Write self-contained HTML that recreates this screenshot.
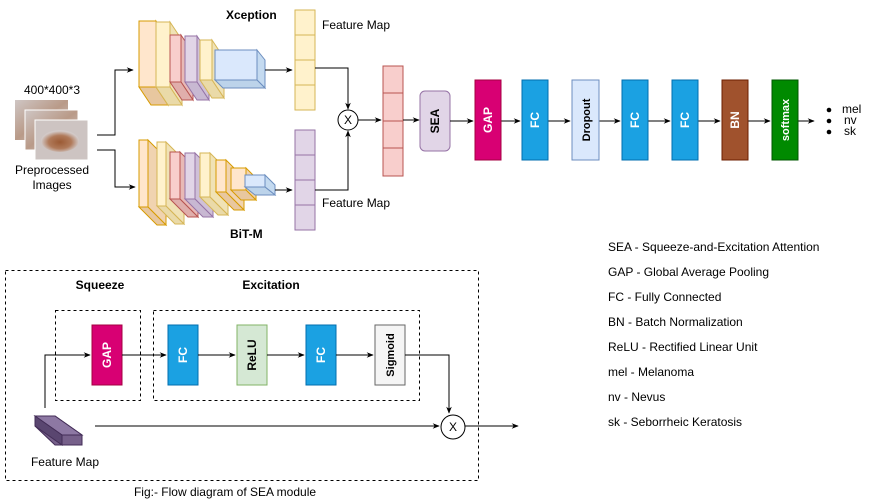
<!DOCTYPE html>
<html><head><meta charset="utf-8"><style>
body{margin:0;background:#fff}
svg{display:block;font-family:"Liberation Sans",Arial,sans-serif}
</style></head><body>
<svg width="871" height="500" viewBox="0 0 871 500" xmlns="http://www.w3.org/2000/svg">
<defs>
<marker id="a" viewBox="0 0 10 10" refX="9" refY="5" markerWidth="7" markerHeight="7" orient="auto"><path d="M0,1 L10,5 L0,9 L3,5z" fill="#000"/></marker>
<linearGradient id="sk" x1="0" y1="0" x2="1" y2="1"><stop offset="0" stop-color="#cfc6c4"/><stop offset="0.5" stop-color="#b99a88"/><stop offset="1" stop-color="#d4cdcc"/></linearGradient>
<radialGradient id="les" cx="0.5" cy="0.55" r="0.5"><stop offset="0" stop-color="#9b5a34"/><stop offset="0.6" stop-color="#b07a5a"/><stop offset="1" stop-color="#d2c9c7"/></radialGradient>
</defs>
<style>
.t{font-size:12px;fill:#000}
.b{font-size:12px;font-weight:bold}
</style>

<text x="52" y="94" class="t" text-anchor="middle">400*400*3</text>
<rect x="15" y="100" width="53" height="40" fill="url(#sk)"/>
<rect x="25" y="110" width="53" height="40" fill="url(#sk)" stroke="#fff"/>
<rect x="35" y="120" width="53" height="40" fill="#cdc4c2" stroke="#fff"/>
<ellipse cx="60" cy="141" rx="19" ry="11" fill="url(#les)"/>
<text x="52" y="174" class="t" text-anchor="middle">Preprocessed</text>
<text x="52" y="189" class="t" text-anchor="middle">Images</text>

<path d="M97,135 H115 V70 H133" fill="none" stroke="#000" marker-end="url(#a)"/>
<path d="M97,150 H115 V187 H135" fill="none" stroke="#000" marker-end="url(#a)"/>

<g>
<polygon points="156,21 168,39 168,105 156,87" fill="#f0d3b0" stroke="#d79b00"/><polygon points="139,87 156,87 168,105 151,105" fill="#e8c79f" stroke="#d79b00"/><rect x="139" y="21" width="17" height="66" fill="#ffe6cc" stroke="#d79b00"/>
<polygon points="170,22 182,40 182,105 170,87" fill="#f0e2b5" stroke="#d6b656"/><polygon points="156,87 170,87 182,105 168,105" fill="#eadaa8" stroke="#d6b656"/><rect x="156" y="22" width="14" height="65" fill="#fff2cc" stroke="#d6b656"/>
<polygon points="181,35 193,53 193,100 181,82" fill="#e8b9b6" stroke="#b85450"/><polygon points="170,82 181,82 193,100 182,100" fill="#e0aeab" stroke="#b85450"/><rect x="170" y="35" width="11" height="47" fill="#f8cecc" stroke="#b85450"/>
<polygon points="197,36 209,54 209,100 197,82" fill="#cfc0d8" stroke="#9673a6"/><polygon points="185,82 197,82 209,100 197,100" fill="#c8b8d2" stroke="#9673a6"/><rect x="185" y="36" width="12" height="46" fill="#e1d5e7" stroke="#9673a6"/>
<polygon points="212,40 224,58 224,98 212,80" fill="#f0e2b5" stroke="#d6b656"/><polygon points="200,80 212,80 224,98 212,98" fill="#eadaa8" stroke="#d6b656"/><rect x="200" y="40" width="12" height="40" fill="#fff2cc" stroke="#d6b656"/>
<polygon points="257,50 265,60 265,88 257,80" fill="#c4daf0" stroke="#6c8ebf"/><polygon points="215,80 257,80 265,88 223,88" fill="#bcd3ea" stroke="#6c8ebf"/><rect x="215" y="50" width="42" height="30" fill="#dae8fc" stroke="#6c8ebf"/>
</g>
<text x="226" y="19" class="b">Xception</text>
<path d="M265,70 H292" stroke="#000" marker-end="url(#a)"/>

<g>
<polygon points="148,140 166,158 166,225 148,207" fill="#f0d3b0" stroke="#d79b00"/><polygon points="139,207 148,207 166,225 157,225" fill="#e8c79f" stroke="#d79b00"/><rect x="139" y="140" width="9" height="67" fill="#ffe6cc" stroke="#d79b00"/>
<polygon points="166,142 184,160 184,224 166,206" fill="#f0e2b5" stroke="#d6b656"/><polygon points="157,206 166,206 184,224 175,224" fill="#eadaa8" stroke="#d6b656"/><rect x="157" y="142" width="9" height="64" fill="#fff2cc" stroke="#d6b656"/>
<polygon points="180,152 198,170 198,217 180,199" fill="#e8b9b6" stroke="#b85450"/><polygon points="170,199 180,199 198,217 188,217" fill="#e0aeab" stroke="#b85450"/><rect x="170" y="152" width="10" height="47" fill="#f8cecc" stroke="#b85450"/>
<polygon points="195,153 213,171 213,217 195,199" fill="#cfc0d8" stroke="#9673a6"/><polygon points="185,199 195,199 213,217 203,217" fill="#c8b8d2" stroke="#9673a6"/><rect x="185" y="153" width="10" height="46" fill="#e1d5e7" stroke="#9673a6"/>
<polygon points="210,153 228,171 228,215 210,197" fill="#f0e2b5" stroke="#d6b656"/><polygon points="200,197 210,197 228,215 218,215" fill="#eadaa8" stroke="#d6b656"/><rect x="200" y="153" width="10" height="44" fill="#fff2cc" stroke="#d6b656"/>
<polygon points="226,160 244,178 244,210 226,192" fill="#f0d3b0" stroke="#d79b00"/><polygon points="216,192 226,192 244,210 234,210" fill="#e8c79f" stroke="#d79b00"/><rect x="216" y="160" width="10" height="32" fill="#ffe6cc" stroke="#d79b00"/>
<polygon points="246,168 256,178 256,200 246,190" fill="#f0d3b0" stroke="#d79b00"/><polygon points="231,190 246,190 256,200 241,200" fill="#e8c79f" stroke="#d79b00"/><rect x="231" y="168" width="15" height="22" fill="#ffe6cc" stroke="#d79b00"/>
<polygon points="265,175 275,185 275,195 265,187" fill="#c4daf0" stroke="#6c8ebf"/><polygon points="245,187 265,187 275,195 255,195" fill="#bcd3ea" stroke="#6c8ebf"/><rect x="245" y="175" width="20" height="12" fill="#dae8fc" stroke="#6c8ebf"/>
</g>
<text x="230" y="238" class="b">BiT-M</text>
<path d="M275,190 H292" stroke="#000" marker-end="url(#a)"/>

<g stroke="#d6b656" fill="#fff2cc"><rect x="295" y="10" width="20" height="25"/><rect x="295" y="35" width="20" height="25"/><rect x="295" y="60" width="20" height="25"/><rect x="295" y="85" width="20" height="25"/></g>
<g stroke="#9673a6" fill="#e1d5e7"><rect x="295" y="130" width="20" height="25"/><rect x="295" y="155" width="20" height="25"/><rect x="295" y="180" width="20" height="25"/><rect x="295" y="205" width="20" height="25"/></g>
<text x="322" y="29" class="t">Feature Map</text>
<text x="322" y="207" class="t">Feature Map</text>
<path d="M315,68 H348 V109" fill="none" stroke="#000" marker-end="url(#a)"/>
<path d="M315,190 H348 V131" fill="none" stroke="#000" marker-end="url(#a)"/>
<circle cx="348" cy="120" r="10" fill="#fff" stroke="#000"/>
<text x="348" y="124" class="t" text-anchor="middle">X</text>
<path d="M358,120 H381" stroke="#000" marker-end="url(#a)"/>
<g stroke="#b85450" fill="#f8cecc"><rect x="383" y="66" width="20" height="27"/><rect x="383" y="93" width="20" height="28"/><rect x="383" y="121" width="20" height="27"/><rect x="383" y="148" width="20" height="28"/></g>
<path d="M403,120 H419" stroke="#000" marker-end="url(#a)"/>
<rect x="420" y="91" width="30" height="60" rx="5" fill="#e1d5e7" stroke="#9673a6"/>
<text transform="translate(439,121) rotate(-90)" class="b" text-anchor="middle">SEA</text>

<g stroke="#000">
<path d="M450,121 H473" marker-end="url(#a)"/>
<path d="M501,121 H520" marker-end="url(#a)"/>
<path d="M548,121 H570" marker-end="url(#a)"/>
<path d="M599,121 H620" marker-end="url(#a)"/>
<path d="M648,121 H670" marker-end="url(#a)"/>
<path d="M698,121 H720" marker-end="url(#a)"/>
<path d="M748,121 H770" marker-end="url(#a)"/>
<path d="M798,121 H814" marker-end="url(#a)"/>
</g>
<rect x="475" y="80" width="26" height="80" fill="#d80073" stroke="#a50040"/>
<text transform="translate(492,120) rotate(-90)" class="b" fill="#fff" text-anchor="middle">GAP</text>
<rect x="522" y="80" width="26" height="80" fill="#1ba1e2" stroke="#006eaf"/>
<text transform="translate(539,120) rotate(-90)" class="b" fill="#fff" text-anchor="middle">FC</text>
<rect x="572" y="80" width="27" height="80" fill="#dae8fc" stroke="#6c8ebf"/>
<text transform="translate(590,120) rotate(-90)" class="b" text-anchor="middle" style="font-size:11px">Dropout</text>
<rect x="622" y="80" width="26" height="80" fill="#1ba1e2" stroke="#006eaf"/>
<text transform="translate(639,120) rotate(-90)" class="b" fill="#fff" text-anchor="middle">FC</text>
<rect x="672" y="80" width="26" height="80" fill="#1ba1e2" stroke="#006eaf"/>
<text transform="translate(689,120) rotate(-90)" class="b" fill="#fff" text-anchor="middle">FC</text>
<rect x="722" y="80" width="26" height="80" fill="#a0522d" stroke="#6d1f00"/>
<text transform="translate(739,120) rotate(-90)" class="b" fill="#fff" text-anchor="middle">BN</text>
<rect x="772" y="80" width="26" height="80" fill="#008a00" stroke="#005700"/>
<text transform="translate(789,120) rotate(-90)" class="b" fill="#fff" text-anchor="middle" style="font-size:11px">softmax</text>
<circle cx="829" cy="110" r="2.3"/><circle cx="829" cy="121" r="2.3"/><circle cx="829" cy="132" r="2.3"/>
<text x="842" y="113" class="t">mel</text>
<text x="844" y="124" class="t">nv</text>
<text x="844" y="135" class="t">sk</text>

<g class="t">
<text x="608" y="251">SEA - Squeeze-and-Excitation Attention</text>
<text x="608" y="276">GAP - Global Average Pooling</text>
<text x="608" y="301">FC - Fully Connected</text>
<text x="608" y="326">BN - Batch Normalization</text>
<text x="608" y="351">ReLU - Rectified Linear Unit</text>
<text x="608" y="376">mel - Melanoma</text>
<text x="608" y="401">nv - Nevus</text>
<text x="608" y="426">sk - Seborrheic Keratosis</text>
</g>

<g fill="none" stroke="#000" stroke-dasharray="3,3">
<rect x="5.5" y="270.5" width="473" height="210"/>
<rect x="55.5" y="310.5" width="85" height="90"/>
<rect x="153.5" y="310.5" width="266" height="90"/>
</g>
<text x="100" y="289" class="b" text-anchor="middle">Squeeze</text>
<text x="271" y="289" class="b" text-anchor="middle">Excitation</text>
<rect x="92" y="325" width="30" height="60" fill="#d80073" stroke="#a50040"/>
<text transform="translate(111,355) rotate(-90)" class="b" fill="#fff" text-anchor="middle">GAP</text>
<rect x="168" y="325" width="30" height="60" fill="#1ba1e2" stroke="#006eaf"/>
<text transform="translate(187,355) rotate(-90)" class="b" fill="#fff" text-anchor="middle">FC</text>
<rect x="237" y="325" width="30" height="60" fill="#d5e8d4" stroke="#82b366"/>
<text transform="translate(256,355) rotate(-90)" class="b" text-anchor="middle">ReLU</text>
<rect x="306" y="325" width="30" height="60" fill="#1ba1e2" stroke="#006eaf"/>
<text transform="translate(325,355) rotate(-90)" class="b" fill="#fff" text-anchor="middle">FC</text>
<rect x="375" y="325" width="30" height="60" fill="#f5f5f5" stroke="#666"/>
<text transform="translate(394,355) rotate(-90)" class="b" text-anchor="middle" style="font-size:11px">Sigmoid</text>
<g stroke="#000" fill="none">
<path d="M45,408 V355 H90" marker-end="url(#a)"/>
<path d="M122,355 H166" marker-end="url(#a)"/>
<path d="M198,355 H235" marker-end="url(#a)"/>
<path d="M267,355 H304" marker-end="url(#a)"/>
<path d="M336,355 H373" marker-end="url(#a)"/>
<path d="M405,355 H449 V413" marker-end="url(#a)"/>
<path d="M95,426 H439" marker-end="url(#a)"/>
<path d="M465,426 H518" marker-end="url(#a)"/>
</g>
<circle cx="453" cy="427" r="12" fill="#fff" stroke="#000"/>
<text x="453" y="431" class="t" text-anchor="middle">X</text>
<polygon points="35,416 55,416 82,435 82,445 55,445 35,426" fill="#76608a" stroke="#432d57"/>
<polygon points="35,416 55,416 82,435 62,435" fill="#8d78a3" stroke="#432d57"/>
<polygon points="35,416 62,435 62,445 35,426" fill="#5a4670" stroke="#432d57"/>
<text x="65" y="466" class="t" text-anchor="middle">Feature Map</text>
<text x="225" y="496" class="t" text-anchor="middle">Fig:- Flow diagram of SEA module</text>
</svg>
</body></html>
